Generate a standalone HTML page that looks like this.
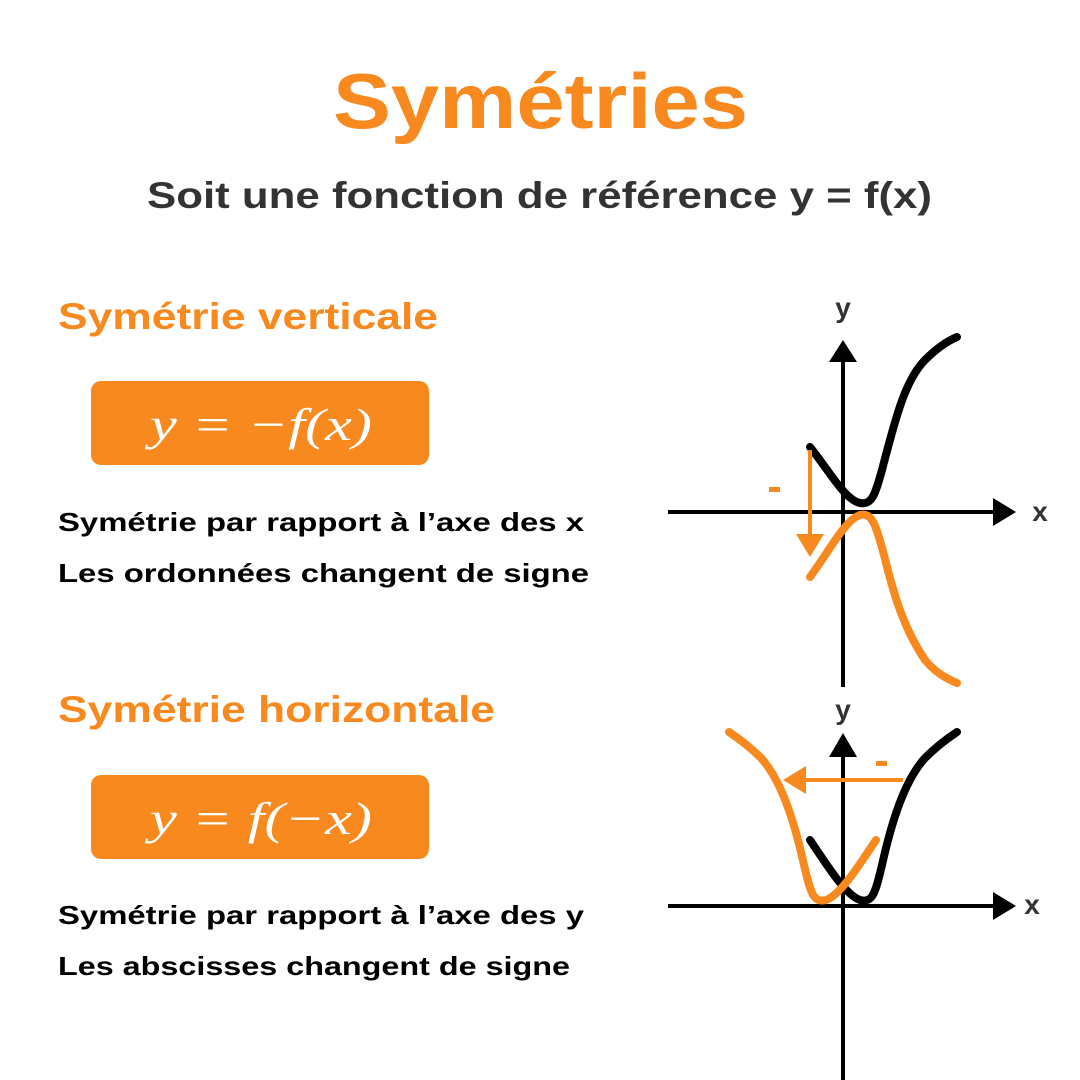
<!DOCTYPE html>
<html><head><meta charset="utf-8"><style>
html,body{margin:0;padding:0;background:#fff;}
svg{display:block;}
.t{font-family:"Liberation Sans",sans-serif;font-weight:bold;}
.m{font-family:"Liberation Serif",serif;font-style:italic;fill:#fff;}
</style></head><body>
<svg width="1080" height="1080" viewBox="0 0 1080 1080" xmlns="http://www.w3.org/2000/svg">
<rect width="1080" height="1080" fill="#fff"/>
<text class="t" x="333" y="128" font-size="78" fill="#F7891F" textLength="415" lengthAdjust="spacingAndGlyphs">Symétries</text>
<text class="t" x="147" y="208" font-size="37" fill="#333" textLength="785" lengthAdjust="spacingAndGlyphs">Soit une fonction de référence y = f(x)</text>

<text class="t" x="58" y="329" font-size="37" fill="#F7891F" textLength="380" lengthAdjust="spacingAndGlyphs">Symétrie verticale</text>
<rect x="91" y="381" width="338" height="84" rx="10" fill="#F7891F"/>
<text class="m" x="150" y="440" font-size="46" textLength="222" lengthAdjust="spacingAndGlyphs">y = −f(x)</text>
<text class="t" x="58" y="531" font-size="26" fill="#000" textLength="526" lengthAdjust="spacingAndGlyphs">Symétrie par rapport à l’axe des x</text>
<text class="t" x="58" y="582" font-size="26" fill="#000" textLength="531" lengthAdjust="spacingAndGlyphs">Les ordonnées changent de signe</text>

<text class="t" x="58" y="722" font-size="37" fill="#F7891F" textLength="437" lengthAdjust="spacingAndGlyphs">Symétrie horizontale</text>
<rect x="91" y="775" width="338" height="84" rx="10" fill="#F7891F"/>
<text class="m" x="150" y="834" font-size="46" textLength="222" lengthAdjust="spacingAndGlyphs">y = f(−x)</text>
<text class="t" x="58" y="924" font-size="26" fill="#000" textLength="526" lengthAdjust="spacingAndGlyphs">Symétrie par rapport à l’axe des y</text>
<text class="t" x="58" y="975" font-size="26" fill="#000" textLength="512" lengthAdjust="spacingAndGlyphs">Les abscisses changent de signe</text>

<!-- Graph 1 -->
<line x1="668" y1="512" x2="995" y2="512" stroke="#000" stroke-width="4"/>
<polygon points="993,498 1016,512 993,526" fill="#000"/>
<line x1="843" y1="687" x2="843" y2="360" stroke="#000" stroke-width="4"/>
<polygon points="829,362 843,340 857,362" fill="#000"/>
<text class="t" x="843" y="317" font-size="28" fill="#333" text-anchor="middle">y</text>
<text class="t" x="1040" y="521" font-size="28" fill="#333" text-anchor="middle">x</text>
<path d="M810,447 C830,472 845,500 860,503 C872,505 875,495 882,470 C895,420 905,380 925,360 C935,350 945,342 957,337" fill="none" stroke="#000" stroke-width="8" stroke-linecap="round"/>
<path d="M810,577 C830,550 845,520 860,515 C872,512 876,525 884,555 C895,600 905,630 925,660 C935,672 945,678 957,683" fill="none" stroke="#F7891F" stroke-width="8" stroke-linecap="round"/>
<line x1="810" y1="450" x2="810" y2="540" stroke="#F7891F" stroke-width="4"/>
<polygon points="796,534 824,534 810,557" fill="#F7891F"/>
<rect x="769" y="487" width="11" height="5" fill="#F7891F"/>

<!-- Graph 2 -->
<line x1="668" y1="906" x2="995" y2="906" stroke="#000" stroke-width="4"/>
<polygon points="993,892 1016,906 993,920" fill="#000"/>
<line x1="843" y1="1080" x2="843" y2="755" stroke="#000" stroke-width="4"/>
<polygon points="829,757 843,733 857,757" fill="#000"/>
<text class="t" x="843" y="719" font-size="28" fill="#333" text-anchor="middle">y</text>
<text class="t" x="1032" y="914" font-size="28" fill="#333" text-anchor="middle">x</text>
<path d="M810,840 C825,862 845,895 860,900 C872,903 875,895 882,865 C892,820 905,780 925,758 C935,748 945,740 957,732" fill="none" stroke="#000" stroke-width="8" stroke-linecap="round"/>
<path d="M876,840 C861,862 841,895 826,900 C814,903 811,895 804,865 C794,820 781,780 761,758 C751,748 741,740 729,732" fill="none" stroke="#F7891F" stroke-width="8" stroke-linecap="round"/>
<line x1="903" y1="780" x2="800" y2="780" stroke="#F7891F" stroke-width="4"/>
<polygon points="806,766 806,794 783,780" fill="#F7891F"/>
<rect x="876" y="761" width="11" height="5" fill="#F7891F"/>
</svg>
</body></html>
